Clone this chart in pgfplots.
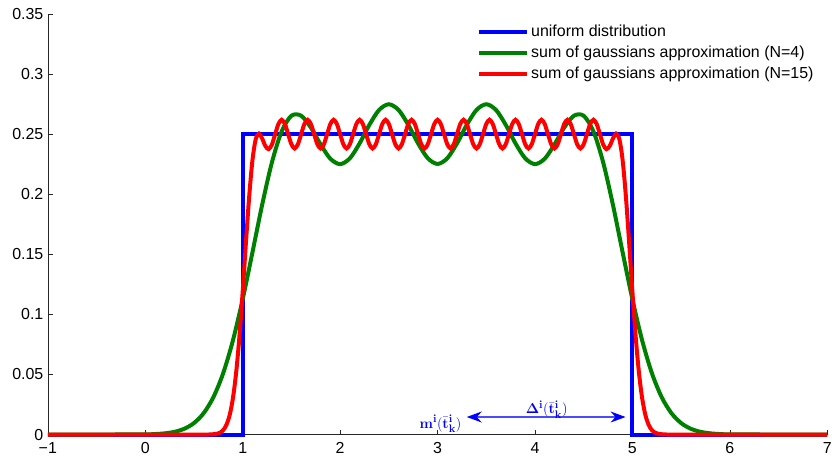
\documentclass[border=0pt]{standalone}
\usepackage{pgfplots}
\pgfplotsset{compat=1.18}
\usepackage[no-math]{fontspec}
\setmainfont{Liberation Sans}
\usepackage{amsmath}
\usetikzlibrary{arrows.meta}
\definecolor{mblue}{rgb}{0,0,1}
\definecolor{mgreen}{rgb}{0,0.5,0}
\definecolor{mred}{rgb}{1,0,0}
\begin{document}
\begin{tikzpicture}
\begin{axis}[
  scale only axis, width=782pt, height=422pt,
  xmin=-1, xmax=7, ymin=0, ymax=0.35,
  axis x line*=bottom, axis y line*=left,
  axis line style={black!85, line width=0.6pt},
  tick align=inside, major tick length=5pt,
  tick style={black!85, line width=0.6pt},
  xtick={-1,0,1,2,3,4,5,6,7},
  xticklabels={−1,0,1,2,3,4,5,6,7},
  ytick={0,0.05,0.1,0.15,0.2,0.25,0.3,0.35},
  yticklabels={0,0.05,0.1,0.15,0.2,0.25,0.3,0.35},
  ticklabel style={font=\fontsize{16}{19}\selectfont},
  xticklabel style={yshift=-4pt},
  yticklabel style={xshift=-1pt},
  clip=false,
  legend style={draw=none, fill=none, at={(0.547,0.983)}, anchor=north west,
    font=\fontsize{16}{19}\selectfont, row sep=4pt},
  legend cell align=left,
  legend image code/.code={\draw[#1] (0pt,0pt) -- (48pt,0pt);},
]
\addplot[mblue, line width=4pt] coordinates {(-1,0) (1,0) (1,0.25) (5,0.25) (5,0) (7,0)};
\addlegendentry{uniform distribution}
\addplot[mgreen, line width=4pt, smooth] coordinates {
(-1,0) (-0.5,0) (0,0.00016) (0.1,0.00041) (0.2,0.00099) (0.3,0.00225) (0.4,0.00479)
(0.5,0.00955) (0.6,0.01784) (0.7,0.03120) (0.8,0.05110) (0.9,0.07837) (1.0,0.11259)
(1.1,0.15154) (1.2,0.19123) (1.3,0.22648) (1.4,0.25226) (1.5,0.26529) (1.6,0.26531)
(1.7,0.25543) (1.8,0.24134) (1.9,0.22951) (2.0,0.22502) (2.1,0.22986) (2.2,0.24231)
(2.3,0.25768) (2.4,0.27010) (2.5,0.27485) (2.6,0.27010) (2.7,0.25768) (2.8,0.24233)
(2.9,0.22992) (3.0,0.22518) (3.1,0.22992) (3.2,0.24233) (3.3,0.25768) (3.4,0.27010)
(3.5,0.27485) (3.6,0.27010) (3.7,0.25768) (3.8,0.24231) (3.9,0.22986) (4.0,0.22502)
(4.1,0.22951) (4.2,0.24134) (4.3,0.25543) (4.4,0.26531) (4.5,0.26529) (4.6,0.25226)
(4.7,0.22648) (4.8,0.19123) (4.9,0.15154) (5.0,0.11259) (5.1,0.07837) (5.2,0.05110)
(5.3,0.03120) (5.4,0.01784) (5.5,0.00955) (5.6,0.00479) (5.7,0.00225) (5.8,0.00099)
(5.9,0.00041) (6.0,0.00016) (6.5,0) (7,0)};
\addlegendentry{sum of gaussians approximation (N=4)}
\addplot[mred, line width=4pt, smooth] coordinates {
(-1,0) (0.5,0) (0.6,0.00001) (0.6667,0.00007) (0.7333,0.00060) (0.7667,0.00155)
(0.8,0.00369) (0.8333,0.00809) (0.8667,0.01633) (0.9,0.03034) (0.9333,0.05193)
(0.9667,0.08189) (1.0,0.11904) (1.0333,0.15967) (1.0667,0.19807) (1.1,0.22810)
(1.1333,0.24561) (1.1667,0.25035) (1.2,0.24631) (1.2333,0.24001) (1.2667,0.23747)
(1.3,0.24135) (1.3333,0.24993) (1.3667,0.25842) (1.4,0.26193) (1.4333,0.25844)
(1.4667,0.25000) (1.5,0.24156) (1.5333,0.23807) (1.5667,0.24156) (1.6,0.25)
(1.6333,0.25844) (1.6667,0.26193) (1.7,0.25844) (1.7333,0.25) (1.7667,0.24156)
(1.8,0.23807) (1.8333,0.24156) (1.8667,0.25) (1.9,0.25844) (1.9333,0.26193)
(1.9667,0.25844) (2.0,0.25) (2.0333,0.24156) (2.0667,0.23807) (2.1,0.24156)
(2.1333,0.25) (2.1667,0.25844) (2.2,0.26193) (2.2333,0.25844) (2.2667,0.25)
(2.3,0.24156) (2.3333,0.23807) (2.3667,0.24156) (2.4,0.25) (2.4333,0.25844)
(2.4667,0.26193) (2.5,0.25844) (2.5333,0.25) (2.5667,0.24156) (2.6,0.23807)
(2.6333,0.24156) (2.6667,0.25) (2.7,0.25844) (2.7333,0.26193) (2.7667,0.25844)
(2.8,0.25) (2.8333,0.24156) (2.8667,0.23807) (2.9,0.24156) (2.9333,0.25)
(2.9667,0.25844) (3.0,0.26193) (3.0333,0.25844) (3.0667,0.25) (3.1,0.24156)
(3.1333,0.23807) (3.1667,0.24156) (3.2,0.25) (3.2333,0.25844) (3.2667,0.26193)
(3.3,0.25844) (3.3333,0.25) (3.3667,0.24156) (3.4,0.23807) (3.4333,0.24156)
(3.4667,0.25) (3.5,0.25844) (3.5333,0.26193) (3.5667,0.25844) (3.6,0.25)
(3.6333,0.24156) (3.6667,0.23807) (3.7,0.24156) (3.7333,0.25) (3.7667,0.25844)
(3.8,0.26193) (3.8333,0.25844) (3.8667,0.25) (3.9,0.24156) (3.9333,0.23807)
(3.9667,0.24156) (4.0,0.25) (4.0333,0.25844) (4.0667,0.26193) (4.1,0.25844)
(4.1333,0.25) (4.1667,0.24156) (4.2,0.23807) (4.2333,0.24156) (4.2667,0.25)
(4.3,0.25844) (4.3333,0.26193) (4.3667,0.25844) (4.4,0.25) (4.4333,0.24156)
(4.4667,0.23807) (4.5,0.24156) (4.5333,0.25000) (4.5667,0.25844) (4.6,0.26193)
(4.6333,0.25842) (4.6667,0.24993) (4.7,0.24135) (4.7333,0.23747) (4.7667,0.24001)
(4.8,0.24631) (4.8333,0.25035) (4.8667,0.24561) (4.9,0.22810) (4.9333,0.19807)
(4.9667,0.15967) (5.0,0.11904) (5.0333,0.08189) (5.0667,0.05193) (5.1,0.03034)
(5.1333,0.01633) (5.1667,0.00809) (5.2,0.00369) (5.2333,0.00155) (5.2667,0.00060)
(5.3333,0.00007) (5.4,0.00001) (5.5,0) (7,0)};
\addlegendentry{sum of gaussians approximation (N=15)}
\draw[mblue!70, line width=1.2pt, {Stealth[length=15pt,width=11pt,mblue]}-{Stealth[length=15pt,width=11pt,mblue]}]
  (axis cs:3.30,0.0146) -- (axis cs:4.93,0.0146);
\node[mblue, font=\fontsize{15.5}{18}\selectfont, inner sep=0pt] at (axis cs:3.03,0.0088)
  {$\mathbf{m}^{\mathbf{i}}(\bar{\mathbf{t}}^{\mathbf{i}}_{\mathbf{k}})$};
\node[mblue, font=\fontsize{15.5}{18}\selectfont, inner sep=0pt] at (axis cs:4.12,0.0205)
  {$\mathbf{\Delta}^{\mathbf{i}}(\bar{\mathbf{t}}^{\mathbf{i}}_{\mathbf{k}})$};
\path (rel axis cs:0,0) ++(-48pt,-25pt);
\path (rel axis cs:1,1) ++(5pt,14pt);
\end{axis}
\end{tikzpicture}
\end{document}
